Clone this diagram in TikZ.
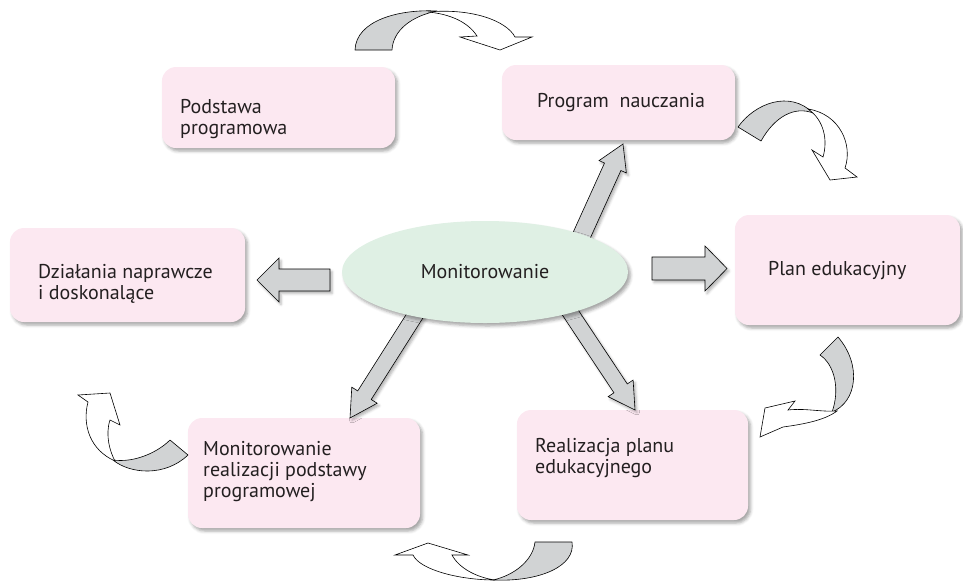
\documentclass[tikz,border=0pt]{standalone}
\usepackage{fontspec}
\setmainfont{PT Sans}
\usetikzlibrary{calc,shapes.geometric,shadows.blur}
\definecolor{boxpink}{RGB}{252,232,241}
\definecolor{ellgreen}{RGB}{223,240,228}
\definecolor{argray}{RGB}{209,211,212}
\definecolor{txt}{RGB}{35,31,32}
\tikzset{
  box/.style={fill=boxpink, rounded corners=14pt, inner sep=0pt,
    blur shadow={shadow xshift=2.5pt, shadow yshift=-3pt, shadow blur radius=3pt, shadow opacity=35}},
  lbl/.style={align=left, inner sep=0pt, anchor=west, text=txt, font=\fontsize{20}{21}\selectfont},
  barr/.style={draw=black, line width=0.6pt, fill=argray, line join=miter,
    blur shadow={shadow xshift=2pt, shadow yshift=-2.5pt, shadow blur radius=2.5pt, shadow opacity=30}},
  graypart/.style={draw=black, line width=0.6pt, fill=argray, line join=round},
  whitepart/.style={draw=black, line width=0.6pt, fill=white, line join=miter},
}
\newcommand\blockarrow[5]{%
  \coordinate (bac) at ($(#2)!#5!(#1)$);
  \draw[barr] ($(#1)!#3!90:(#2)$) -- ($(bac)!#3!90:(#2)$) -- ($(bac)!#4!90:(#2)$) -- (#2)
    -- ($(bac)!#4!-90:(#2)$) -- ($(bac)!#3!-90:(#2)$) -- ($(#1)!#3!-90:(#2)$) -- cycle;}
\begin{document}
\begin{tikzpicture}[x=1pt,y=-1pt]
\useasboundingbox (0,0) rectangle (963,582);

% boxes
\node[box, minimum width=233pt, minimum height=81pt] (pod) at (278.5,107.5) {};
\node[box, minimum width=233pt, minimum height=75pt] (prog) at (618.5,102.5) {};
\node[box, minimum width=235pt, minimum height=94pt] (dzial) at (127.5,275) {};
\node[box, minimum width=225pt, minimum height=110pt] (plan) at (847.5,270) {};
\node[box, minimum width=232pt, minimum height=110pt] (monr) at (304,473) {};
\node[box, minimum width=231pt, minimum height=110pt] (real) at (632.5,465) {};

\node[lbl] (tpod) at (180,119) {Podstawa\\programowa};
\node[lbl] (tprog) at (537,103) {Program~~nauczania};
\node[lbl] (tdzial) at (38,284) {Działania naprawcze\\i doskonalące};
\node[lbl] (tplan) at (768,271) {Plan edukacyjny};
\node[lbl] (tmonr) at (203,472) {Monitorowanie\\realizacji podstawy\\programowej};
\node[lbl] (treal) at (535,458) {Realizacja planu\\edukacyjnego};

% straight block arrows
\coordinate (a1s) at (330,280); \coordinate (a1e) at (257,280);
\coordinate (a2s) at (652,268.5); \coordinate (a2e) at (727,268.5);
\coordinate (a3s) at (575,250); \coordinate (a3e) at (623,144);
\coordinate (a4s) at (428,295); \coordinate (a4e) at (350,418);
\coordinate (a5s) at (552,285); \coordinate (a5e) at (635,410);
\blockarrow{a1s}{a1e}{11pt}{22pt}{22pt}
\blockarrow{a2s}{a2e}{11.5pt}{22.5pt}{22pt}
\blockarrow{a3s}{a3e}{9pt}{15pt}{25pt}
\blockarrow{a4s}{a4e}{8pt}{15pt}{27pt}
\blockarrow{a5s}{a5e}{8pt}{15pt}{26pt}

% central ellipse
\node[ellipse, fill=ellgreen, minimum width=286pt, minimum height=102pt, inner sep=0pt,
  blur shadow={shadow xshift=2.5pt, shadow yshift=-3pt, shadow blur radius=3pt, shadow opacity=35},
  text=txt, font=\fontsize{20}{21}\selectfont] (mon) at (485,272) {Monitorowanie};

% curved arrows
% C1 top
\draw[graypart] (355,50) .. controls (356,20) and (400,9) .. (437,11)
  .. controls (412,16) and (393,30) .. (392,50) -- cycle;
\draw[whitepart] (428,12) .. controls (470,8) and (506,20) .. (515,37) -- (532,37) -- (500,50)
  -- (460,37) -- (477,36) .. controls (468,22) and (450,14) .. (428,12) -- cycle;
% C2 top right
\draw[graypart] (738,127) .. controls (755,103) and (790,90) .. (813,113)
  .. controls (795,106) and (775,116) .. (761,141) -- cycle;
\draw[whitepart] (808,109) .. controls (840,114) and (853,145) .. (845,168) -- (857,177) -- (830,180)
  -- (812,150) -- (823,157) .. controls (828,140) and (824,120) .. (808,109) -- cycle;
% C3 right
\draw[graypart] (838,337) .. controls (862,365) and (857,402) .. (832,412)
  .. controls (840,390) and (835,365) .. (820,355) -- cycle;
\draw[whitepart] (837,411) .. controls (825,420) and (805,424) .. (783,427) -- (760,437) -- (765,408)
  -- (795,401) -- (788,410) .. controls (805,408) and (820,412) .. (837,411) -- cycle;
% C4 lower left
\draw[graypart] (188,455) .. controls (165,477) and (130,474) .. (113,460)
  .. controls (135,463) and (158,452) .. (170,440) -- cycle;
\draw[whitepart] (115,461) .. controls (90,450) and (82,425) .. (88,402) -- (78,395) -- (110,393)
  -- (120,425) -- (110,420) .. controls (105,435) and (110,452) .. (115,461) -- cycle;
% C5 bottom
\draw[graypart] (572,542) .. controls (576,566) and (540,582) .. (493,580)
  .. controls (515,575) and (533,560) .. (535,542) -- cycle;
\draw[whitepart] (495,580) .. controls (460,580) and (420,570) .. (413,555) -- (395,555) -- (428,543)
  -- (468,555) -- (452,555) .. controls (460,570) and (480,578) .. (495,580) -- cycle;
\end{tikzpicture}
\end{document}
